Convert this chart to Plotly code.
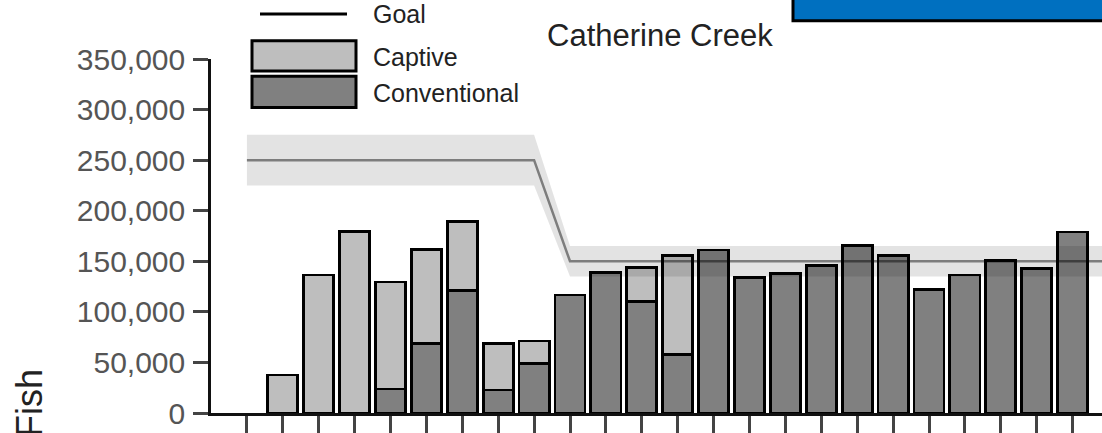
import plotly.graph_objects as go

# ---------------- data ----------------
brood_years = ["1997", "1998", "1999", "2000", "2001", "2002", "2003", "2004",
               "2005", "2006", "2007", "2008", "2009", "2010", "2011", "2012",
               "2013", "2014", "2015", "2016", "2017", "2018", "2019", "2020"]
goal_years = brood_years + ["2021"]

conventional = [None, None, None, None, 23800, 68900, 120800, 22800,
                49300, 116700, 138700, 110300, 58100, 161200, 134200, 138100,
                146200, 165800, 155700, 122100, 136400, 151100, 143000, 178900]
captive = [None, 37500, 136400, 179800, 105800, 92700, 68500, 45700,
           21900, None, None, 33600, 97600, None, None, None,
           None, None, None, None, None, None, None, None]

goal = [250000, 250000, 250000, 250000, 250000, 250000, 250000, 250000, 250000,
        150000, 150000, 150000, 150000, 150000, 150000, 150000, 150000,
        150000, 150000, 150000, 150000, 150000, 150000, 150000, 150000]
goal_upper = [275000, 275000, 275000, 275000, 275000, 275000, 275000, 275000, 275000,
              165000, 165000, 165000, 165000, 165000, 165000, 165000, 165000,
              165000, 165000, 165000, 165000, 165000, 165000, 165000, 165000]
goal_lower = [225000, 225000, 225000, 225000, 225000, 225000, 225000, 225000, 225000,
              135000, 135000, 135000, 135000, 135000, 135000, 135000, 135000,
              135000, 135000, 135000, 135000, 135000, 135000, 135000, 135000]

y_ticks = [0, 50000, 100000, 150000, 200000, 250000, 300000, 350000]

# ---------------- layout geometry ----------------
W, H = 1102, 433
ML, MR, MT, MB = 211, 0, 59, 17
PW, PH = W - ML - MR, H - MT - MB
FONT = "Liberation Sans, Arial, sans-serif"


def px_x(px):
    return (px - ML) / PW


def px_y(py):
    return (H - MB - py) / PH


fig = go.Figure()

fig.add_trace(go.Bar(
    x=brood_years, y=conventional, name="Conventional",
    marker=dict(color="#808080", line=dict(color="#000000", width=2.8)),
))
fig.add_trace(go.Bar(
    x=brood_years, y=captive, name="Captive",
    marker=dict(color="#bebebe", line=dict(color="#000000", width=2.8)),
))
fig.add_trace(go.Scatter(
    x=goal_years, y=goal_lower, mode="lines",
    line=dict(width=0, color="rgba(0,0,0,0)"), showlegend=False,
))
fig.add_trace(go.Scatter(
    x=goal_years, y=goal_upper, mode="lines", fill="tonexty",
    fillcolor="rgba(0,0,0,0.11)",
    line=dict(width=0, color="rgba(0,0,0,0)"), showlegend=False,
))
fig.add_trace(go.Scatter(
    x=goal_years, y=goal, mode="lines", name="Goal",
    line=dict(width=2.5, color="rgba(0,0,0,0.45)"),
))

fig.update_layout(
    width=W, height=H,
    margin=dict(l=ML, r=MR, t=MT, b=MB, pad=0),
    barmode="stack", bargap=0.16,
    plot_bgcolor="white", paper_bgcolor="white",
    showlegend=False, hovermode=False,
    font=dict(family=FONT, color="#222222"),
)

fig.update_xaxes(
    type="category", categoryorder="array", categoryarray=goal_years,
    range=[-1, (W - ML) / 35.9 - 1],
    showline=True, linecolor="#111111", linewidth=2.5,
    ticks="outside", ticklen=20, tickwidth=2.5, tickcolor="#444444",
    showticklabels=False, showgrid=False, zeroline=False,
)
fig.update_yaxes(
    range=[0, 350000], tickvals=y_ticks, tickformat=",",
    showline=True, linecolor="#111111", linewidth=2.5,
    ticks="outside", ticklen=15, tickwidth=2.5, tickcolor="#444444",
    ticklabelstandoff=2,
    tickfont=dict(size=30, color="#555555", family=FONT),
    showgrid=False, zeroline=False,
)

shapes = []
annotations = []

# blue header block (partially visible at top right)
shapes.append(dict(type="rect", xref="paper", yref="paper",
                   x0=px_x(793), x1=px_x(1130), y0=px_y(20.5), y1=px_y(-20),
                   fillcolor="#0070c0", line=dict(color="#000000", width=3)))

# manual legend
shapes.append(dict(type="line", xref="paper", yref="paper",
                   x0=px_x(260), x1=px_x(347), y0=px_y(13.5), y1=px_y(13.5),
                   line=dict(color="#000000", width=3)))
shapes.append(dict(type="rect", xref="paper", yref="paper",
                   x0=px_x(252), x1=px_x(356), y0=px_y(71), y1=px_y(40.5),
                   fillcolor="#bebebe", line=dict(color="#000000", width=3)))
shapes.append(dict(type="rect", xref="paper", yref="paper",
                   x0=px_x(252), x1=px_x(356), y0=px_y(108), y1=px_y(76.5),
                   fillcolor="#808080", line=dict(color="#000000", width=3)))

for label, cy in [("Goal", 14), ("Captive", 57), ("Conventional", 93)]:
    annotations.append(dict(text=label, xref="paper", yref="paper",
                            x=px_x(371), y=px_y(cy), xanchor="left", yanchor="middle",
                            showarrow=False, font=dict(size=25, color="#222222", family=FONT)))

# chart title
annotations.append(dict(text="Catherine Creek", xref="paper", yref="paper",
                        x=px_x(659.5), y=px_y(35), xanchor="center", yanchor="middle",
                        showarrow=False, font=dict(size=31, color="#222222", family=FONT)))

# y-axis title (cut at the bottom edge, as in the reference)
annotations.append(dict(text="Fish", xref="paper", yref="paper",
                        x=px_x(29), y=px_y(406), xanchor="center", yanchor="middle",
                        textangle=-90, showarrow=False,
                        font=dict(size=36, color="#222222", family=FONT)))

fig.update_layout(shapes=shapes, annotations=annotations)

fig.write_html("out.html", config={"displayModeBar": False})
